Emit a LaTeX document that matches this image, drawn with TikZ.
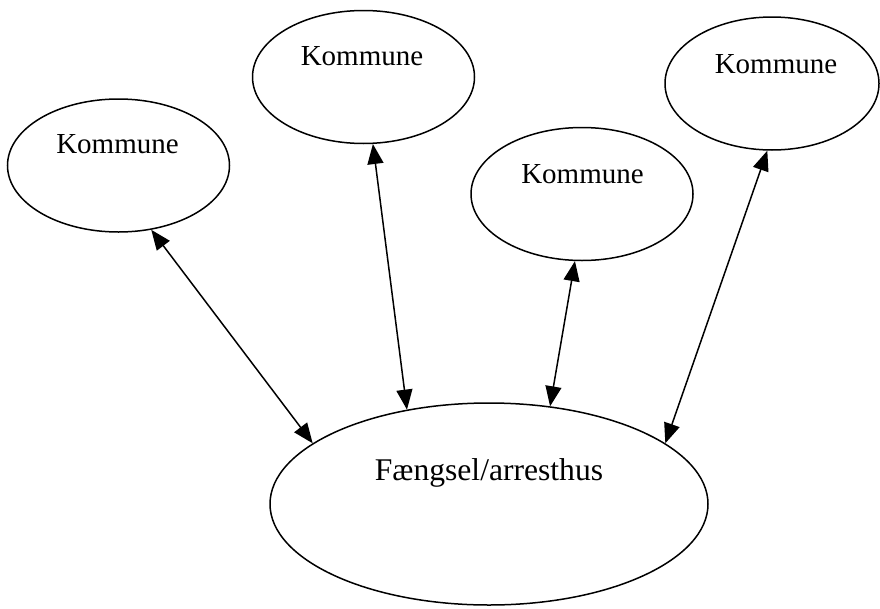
\documentclass[tikz,border=0pt]{standalone}
\usepackage{fontspec}
\setmainfont{Liberation Serif}
\usetikzlibrary{shapes.geometric,arrows.meta}
\begin{document}
\begin{tikzpicture}[x=1pt,y=-1pt,
  kbox/.style={draw,ellipse,line width=1.5pt,inner sep=0pt,minimum width=222pt,minimum height=133pt},
  klabel/.style={anchor=base,inner sep=0pt,font=\fontsize{29}{34}\selectfont},
  link/.style={line width=1.5pt,{Triangle[length=20pt,width=16pt]}-{Triangle[length=20pt,width=16pt]}}]
  \useasboundingbox (0,0) rectangle (880,608);
  % municipalities
  \node[kbox] (k1) at (118.5,165.5) {};
  \node[kbox] (k2) at (363.5,77) {};
  \node[kbox] (k3) at (582,194) {};
  \node[kbox,minimum width=214pt] (k4) at (772,83.5) {};
  \node[klabel] (t1) at (117.5,153) {Kommune};
  \node[klabel] (t2) at (362,65) {Kommune};
  \node[klabel] (t3) at (582.5,183) {Kommune};
  \node[klabel] (t4) at (776,73) {Kommune};
  % prison
  \node[draw,ellipse,line width=1.5pt,inner sep=0pt,minimum width=438pt,minimum height=202pt] (f) at (489,504) {};
  \node[anchor=base,inner sep=0pt,font=\fontsize{31.6}{37}\selectfont] (tf) at (489,480) {Fængsel/arresthus};
  % two-way links
  \draw[link] (k1.-63) -- (f.161);
  \draw[link] (k2.-82) -- (f.131.6);
  \draw[link] (k3.-96) -- (f.58.7);
  \draw[link] (k4.-94) -- (f.19.8);
\end{tikzpicture}
\end{document}
